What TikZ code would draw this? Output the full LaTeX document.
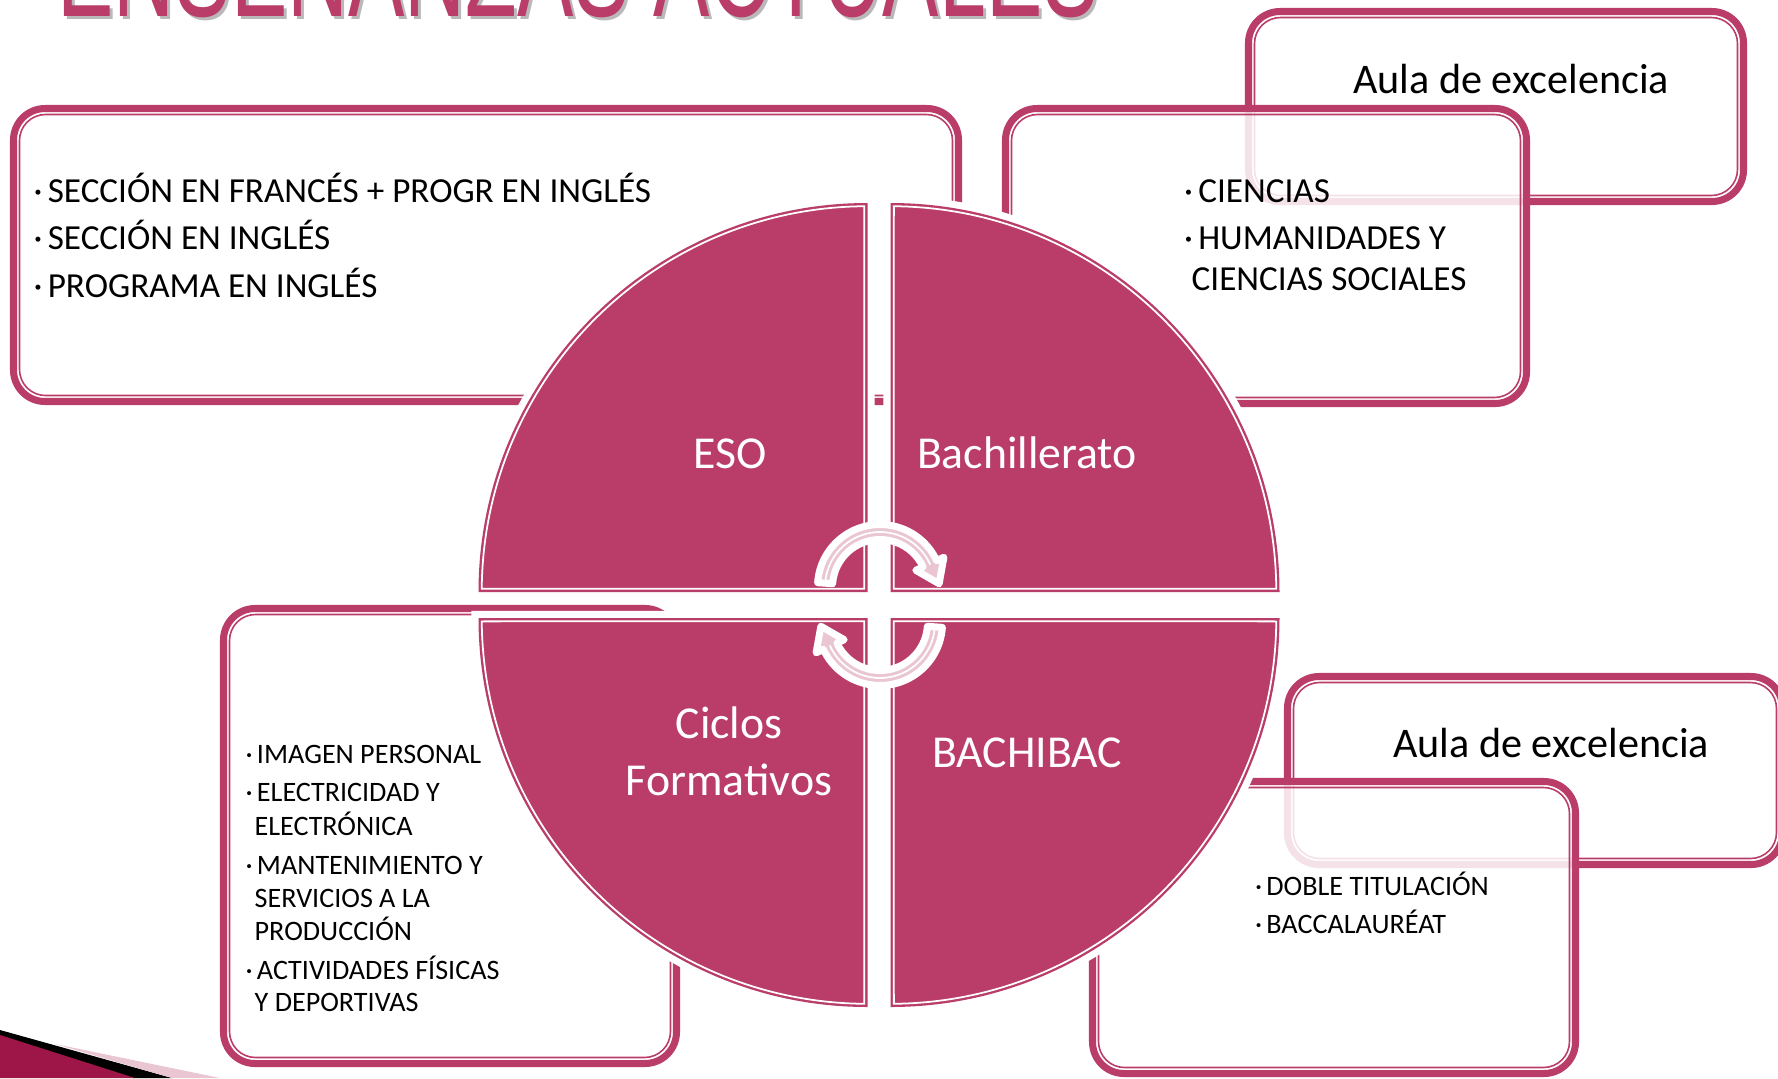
\documentclass[tikz,border=0pt]{standalone}
\usepackage{fontspec}
\setmainfont{Carlito}
\newfontfamily\titulofont{Liberation Sans}
\usetikzlibrary{calc}

\definecolor{granate}{RGB}{185,61,104}
\definecolor{granateosc}{RGB}{158,22,72}

\newcommand{\punto}{·\kern0.15em}
% caja doble: [opacidad]{x1}{y1}{x2}{y2}
\newcommand{\caja}[5][1]{%
  \draw[marco, fill opacity=#1] (#2+3.5,#3+3.5) rectangle (#4-3.5,#5-3.5);
  \draw[filete] (#2+9.5,#3+9.5) rectangle (#4-9.5,#5-9.5);}

\tikzset{
  marco/.style={draw=granate, line width=2pt, fill=white, rounded corners=0.315cm},
  filete/.style={draw=granate, line width=0.45pt, rounded corners=0.26cm},
  lista/.style={anchor=base west, inner sep=0pt, text=black},
  etiqueta/.style={anchor=base, inner sep=0pt, text=white, font=\fontsize{13}{15}\selectfont},
  aula/.style={anchor=base, inner sep=0pt, font=\fontsize{12}{14}\selectfont},
  giro/.style={draw=white, line width=2pt, line join=round, fill=granate!30},
}

\begin{document}
\begin{tikzpicture}[x=0.01cm, y=-0.01cm]
\useasboundingbox (0,0) rectangle (1778,1078);
\clip (0,0) rectangle (1778,1078);
\fill[white] (0,0) rectangle (1778,1078);

% titulo (cortado arriba)
\node[anchor=base west, inner sep=0pt, text=gray!55] (sombra) at (60,19) {\titulofont\fontsize{40}{40}\selectfont\scalebox{0.6}[1]{ENSEÑANZAS ACTUALES}};
\node[anchor=base west, inner sep=0pt, text=granate] (titulo) at (57,16) {\titulofont\fontsize{40}{40}\selectfont\scalebox{0.6}[1]{ENSEÑANZAS ACTUALES}};

% esquina abajo izquierda
\fill[black] (0,1030) -- (172,1078) -- (133,1078) -- (0,1036) -- cycle;
\fill[granateosc] (0,1035) -- (135,1078) -- (0,1078) -- cycle;
\fill[granate!30] (55,1044) -- (220,1078) -- (172,1078) -- cycle;

% cajas
\caja{1245}{8}{1747}{205}          % aula de excelencia arriba
\caja[0.85]{1002}{105}{1530}{407}  % bachillerato
\caja{10}{105}{962}{405}           % eso
\caja{1284}{673}{1786}{868}        % aula de excelencia abajo
\caja[0.85]{1089}{778}{1579}{1077} % bachibac
\caja{220}{605}{680}{1067}         % ciclos

% circulo en cuatro partes
\foreach \a/\dx/\dy in {180/-11.5/-13, 270/11.5/-13, 90/-11.5/13, 0/11.5/13}{
  \draw[white, line width=4pt] (879+\dx,605+\dy) -- ++(\a:389) arc[start angle=\a, delta angle=90, radius=389] -- cycle;
  \fill[granate] (879+\dx,605+\dy) -- ++(\a:389) arc[start angle=\a, delta angle=90, radius=389] -- cycle;
  \draw[white, line width=0.5pt] ($(879+\dx,605+\dy)+(\a+45:4.5)$) -- ($(879+\dx,605+\dy)+(\a+0.5:385.8)$) arc[start angle=\a+0.5, delta angle=89, radius=385.8] -- cycle;
}

% flechas del ciclo
\foreach \cy/\rot in {587/0, 623/180}{
  \begin{scope}[shift={(880,\cy)}, rotate=\rot]
    \draw[giro] (184:62.5) arc[start angle=184, end angle=335, radius=62.5] -- (335:70.5) -- ($(335:55)+(65:22)$) -- (335:39.5) -- (335:47.5) arc[start angle=335, end angle=184, radius=47.5] -- cycle;
    \draw[white, line width=0.5pt] (184:55) arc[start angle=184, end angle=336, radius=55];
  \end{scope}
}

% etiquetas del circulo
\node[etiqueta] (eso) at (730,468) {ESO};
\node[etiqueta] (bachillerato) at (1027,468) {Bachillerato};
\node[etiqueta] (ciclos) at (729,738) {Ciclos};
\node[etiqueta] (formativos) at (729,795) {Formativos};
\node[etiqueta] (bachibac) at (1027,767) {BACHIBAC};

% aulas de excelencia
\node[aula] (aulaA) at (1511,93.3) {Aula de excelencia};
\node[aula] (aulaB) at (1551,757.7) {Aula de excelencia};

% listas
\foreach \x/\y/\t [count=\i] in {33/202/{\punto SECCIÓN EN FRANCÉS + PROGR EN INGLÉS}, 33/249.5/{\punto SECCIÓN EN INGLÉS}, 33/297/{\punto PROGRAMA EN INGLÉS}}
  \node[lista, font=\fontsize{10}{12}\selectfont] (txtEso\i) at (\x,\y) {\t};
\foreach \x/\y/\t [count=\i] in {1183.5/202/{\punto CIENCIAS}, 1183.5/249/{\punto HUMANIDADES Y}, 1191/290/{CIENCIAS SOCIALES}}
  \node[lista, font=\fontsize{10}{12}\selectfont] (txtBach\i) at (\x,\y) {\t};
\foreach \x/\y/\t [count=\i] in {245/763.5/{\punto IMAGEN PERSONAL}, 245/801.5/{\punto ELECTRICIDAD Y}, 254/835.5/{ELECTRÓNICA}, 245/874.5/{\punto MANTENIMIENTO Y}, 254/907.5/{SERVICIOS A LA}, 254/940.5/{PRODUCCIÓN}, 245/979.5/{\punto ACTIVIDADES FÍSICAS}, 254/1011.5/{Y DEPORTIVAS}}
  \node[lista, font=\fontsize{8}{10}\selectfont] (txtCiclos\i) at (\x,\y) {\t};
\foreach \x/\y/\t [count=\i] in {1254.4/895/{\punto DOBLE TITULACIÓN}, 1254.4/933/{\punto BACCALAURÉAT}}
  \node[lista, font=\fontsize{8}{10}\selectfont] (txtBachibac\i) at (\x,\y) {\t};
\end{tikzpicture}
\end{document}
